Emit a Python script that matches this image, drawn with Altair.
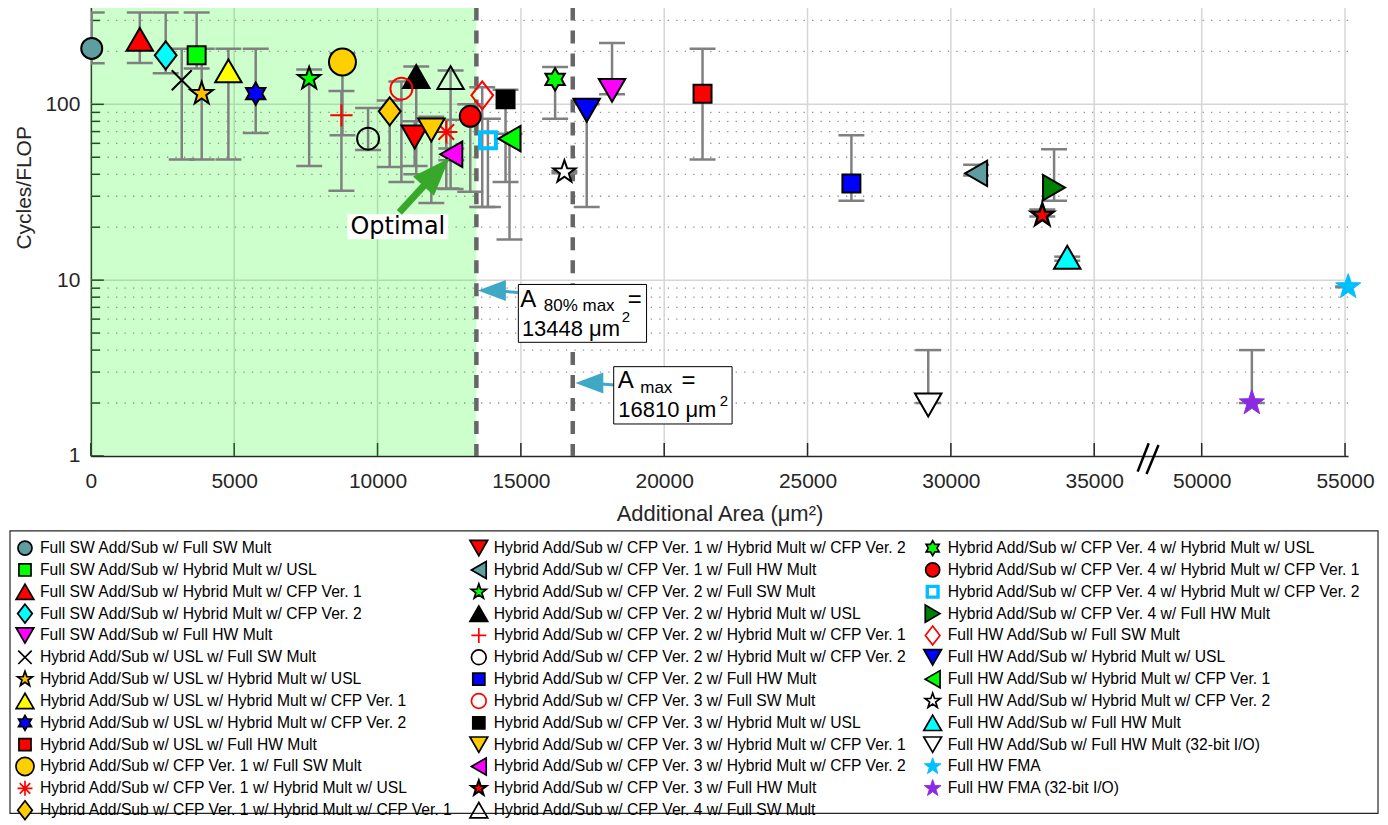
import math
import altair as alt
import pandas as pd

# ---------------- data ----------------
names = [
    "Full SW Add/Sub w/ Full SW Mult",
    "Full SW Add/Sub w/ Hybrid Mult w/ USL",
    "Full SW Add/Sub w/ Hybrid Mult w/ CFP Ver. 1",
    "Full SW Add/Sub w/ Hybrid Mult w/ CFP Ver. 2",
    "Full SW Add/Sub w/ Full HW Mult",
    "Hybrid Add/Sub w/ USL w/ Full SW Mult",
    "Hybrid Add/Sub w/ USL w/ Hybrid Mult w/ USL",
    "Hybrid Add/Sub w/ USL w/ Hybrid Mult w/ CFP Ver. 1",
    "Hybrid Add/Sub w/ USL w/ Hybrid Mult w/ CFP Ver. 2",
    "Hybrid Add/Sub w/ USL w/ Full HW Mult",
    "Hybrid Add/Sub w/ CFP Ver. 1 w/ Full SW Mult",
    "Hybrid Add/Sub w/ CFP Ver. 1 w/ Hybrid Mult w/ USL",
    "Hybrid Add/Sub w/ CFP Ver. 1 w/ Hybrid Mult w/ CFP Ver. 1",
    "Hybrid Add/Sub w/ CFP Ver. 1 w/ Hybrid Mult w/ CFP Ver. 2",
    "Hybrid Add/Sub w/ CFP Ver. 1 w/ Full HW Mult",
    "Hybrid Add/Sub w/ CFP Ver. 2 w/ Full SW Mult",
    "Hybrid Add/Sub w/ CFP Ver. 2 w/ Hybrid Mult w/ USL",
    "Hybrid Add/Sub w/ CFP Ver. 2 w/ Hybrid Mult w/ CFP Ver. 1",
    "Hybrid Add/Sub w/ CFP Ver. 2 w/ Hybrid Mult w/ CFP Ver. 2",
    "Hybrid Add/Sub w/ CFP Ver. 2 w/ Full HW Mult",
    "Hybrid Add/Sub w/ CFP Ver. 3 w/ Full SW Mult",
    "Hybrid Add/Sub w/ CFP Ver. 3 w/ Hybrid Mult w/ USL",
    "Hybrid Add/Sub w/ CFP Ver. 3 w/ Hybrid Mult w/ CFP Ver. 1",
    "Hybrid Add/Sub w/ CFP Ver. 3 w/ Hybrid Mult w/ CFP Ver. 2",
    "Hybrid Add/Sub w/ CFP Ver. 3 w/ Full HW Mult",
    "Hybrid Add/Sub w/ CFP Ver. 4 w/ Full SW Mult",
    "Hybrid Add/Sub w/ CFP Ver. 4 w/ Hybrid Mult w/ USL",
    "Hybrid Add/Sub w/ CFP Ver. 4 w/ Hybrid Mult w/ CFP Ver. 1",
    "Hybrid Add/Sub w/ CFP Ver. 4 w/ Hybrid Mult w/ CFP Ver. 2",
    "Hybrid Add/Sub w/ CFP Ver. 4 w/ Full HW Mult",
    "Full HW Add/Sub w/ Full SW Mult",
    "Full HW Add/Sub w/ Hybrid Mult w/ USL",
    "Full HW Add/Sub w/ Hybrid Mult w/ CFP Ver. 1",
    "Full HW Add/Sub w/ Hybrid Mult w/ CFP Ver. 2",
    "Full HW Add/Sub w/ Full HW Mult",
    "Full HW Add/Sub w/ Full HW Mult (32-bit I/O)",
    "Full HW FMA",
    "Full HW FMA (32-bit I/O)",
]
area = [30, 3690, 1706, 2610, 18180, 3170, 3866, 4797, 5750, 21337,
        8776, 12398, 10424, 11295, 30880, 7615, 11350, 8740, 9670, 26530,
        10832, 14465, 11876, 12572, 33190, 12548, 16194, 13234, 13850, 33600,
        13652, 17297, 14603, 16518, 34060, 29210, 55110, 51750]
cycles = [208, 190, 234, 190, 120, 137, 115, 155, 115, 115,
          174, 69.6, 91.2, 65.2, 40.5, 140, 144, 86.6, 63.8, 35.5,
          122.8, 106.7, 71.5, 52, 23.4, 141.8, 138.7, 85.5, 62.4, 33.6,
          112.5, 92.5, 63.8, 41.2, 13.5, 1.95, 9.15, 2.0]
err_lo = [171, 160, 172, 150, 114, 48.5, 48.5, 48.5, 68.7, 48.5,
          66.7, 33.2, 44, 44.6, 39.4, 44.6, 40, 32.2, 55, 28.3,
          36.2, 36.2, 27.5, 48, 23.0, 33, 82.8, 31.8, 26.1, 28.3,
          26.1, 26.1, 17.0, 40.5, 12.9, 2, 9.1, 2]
err_hi = [333, 333, 333, 333, 223, 207, 207, 207, 207, 207,
          195, 81.8, 105, 80, 45.3, 158, 164, 119, 95.3, 66.7,
          135, 121, 85, 56, 25.2, 156, 163, 100, 82.8, 55.5,
          125, 100, 68, 41.8, 13.6, 4, 9.2, 4]

A80 = 13448
AMAX = 16810

x_ticks = [0, 5000, 10000, 15000, 20000, 25000, 30000, 35000, 50000, 55000]
y_major = [10, 100]
y_minor = [2, 3, 4, 5, 6, 7, 8, 9, 20, 30, 40, 50, 60, 70, 80, 90, 200, 300]

# broken x axis: 50000 is drawn where 38750 would fall
BREAK_SHIFT = 11250


def ax(v):
    return v - BREAK_SHIFT if v >= 45000 else v


x_tick_pos = [ax(v) for v in x_ticks]

# ---------------- marker styles ----------------


def star(n, inner):
    p = []
    for k in range(2 * n):
        r = 1.0 if k % 2 == 0 else inner
        a = math.pi * k / n - math.pi / 2
        p.append(f"{r * math.cos(a):.3f},{r * math.sin(a):.3f}")
    return "M" + "L".join(p) + "Z"


PENT = star(5, 0.40)
HEX = star(6, 0.58)
DIAM = "M0,-1L0.78,0L0,1L-0.78,0Z"
XM = "M-1,-1L1,1M-1,1L1,-1"
PLUS = "M-1,0L1,0M0,-1L0,1"
AST = "M-1,0L1,0M0,-1L0,1M-0.7,-0.7L0.7,0.7M-0.7,0.7L0.7,-0.7"
HEAD = "M1,0L-1,-0.75L-1,0.75Z"
TU, TD, TL, TR = "triangle-up", "triangle-down", "triangle-left", "triangle-right"
C, S = "circle", "square"
K = "#000000"
N = "transparent"
W_ = "#ffffff"

style = [  # shape, fill, stroke, size, strokeWidth
    (C, "#5f9ea0", K, 441, 2), (S, "#00ff00", K, 324, 2), (TU, "#ff0000", K, 700, 2),
    (DIAM, "#00ffff", K, 784, 2), (TD, "#ff00ff", K, 700, 2), (XM, N, K, 400, 2),
    (PENT, "#ffc000", K, 560, 2), (TU, "#ffff00", K, 700, 2), (HEX, "#0000ff", K, 500, 2),
    (S, "#ff0000", K, 324, 2), (C, "#ffd000", K, 729, 2), (AST, N, "#ff0000", 500, 2),
    (DIAM, "#ffcc00", K, 784, 2), (TD, "#ff0000", K, 700, 2), (TL, "#5f9ea0", K, 650, 2),
    (PENT, "#00ff00", K, 560, 2), (TU, "#000000", K, 700, 2), (PLUS, N, "#ff0000", 500, 2),
    (C, N, K, 484, 2), (S, "#0000ff", K, 324, 2), (C, N, "#ff0000", 484, 2),
    (S, "#000000", K, 324, 2), (TD, "#ffcc00", K, 700, 2), (TL, "#ff00ff", K, 650, 2),
    (PENT, "#ff0000", K, 560, 2.5), (TU, N, K, 700, 2), (HEX, "#00ff00", K, 500, 2),
    (C, "#ff0000", K, 441, 2), (S, N, "#00bfff", 256, 4), (TR, "#008000", K, 650, 2),
    (DIAM, N, "#ff0000", 784, 2), (TD, "#0000ff", K, 700, 2), (TL, "#00ff00", K, 650, 2),
    (PENT, W_, K, 560, 2), (TU, "#00ffff", K, 700, 2), (TD, W_, K, 700, 2),
    (PENT, "#00bfff", "#00bfff", 700, 1), (PENT, "#8a2be2", "#8a2be2", 700, 1),
]

pts = pd.DataFrame({
    "name": names,
    "x": [ax(v) for v in area],
    "y": cycles,
    "lo": err_lo,
    "hi": err_hi,
    "shape": [s[0] for s in style],
    "fill": [s[1] for s in style],
    "stroke": [s[2] for s in style],
    "size": [s[3] for s in style],
    "sw": [s[4] for s in style],
})

# ---------------- scales & axes ----------------
W, H = 1259, 449
xs = alt.Scale(domain=[0, 43855], nice=False, zero=False)
ys = alt.Scale(type="log", domain=[1, 355], nice=False)
FONT = "Liberation Sans"
INK = "#262626"

NB = "\u00a0"
x_axis = alt.Axis(
    values=x_tick_pos, grid=False, ticks=False, domainColor=INK, domainWidth=1.5,
    labelFontSize=21, labelPadding=15, labelFlush=False, labelOverlap=False,
    labelExpr=(f"datum.value > 36000 ? format(datum.value + {BREAK_SHIFT}, 'd') : "
               f"(datum.value == 0 ? '0{NB * 4}' : format(datum.value, 'd'))"),
    title="Additional Area (μm²)", titleFontSize=22, titleFontWeight="normal",
    titlePadding=12,
)
y_axis = alt.Axis(
    values=[1, 10, 100], grid=False, ticks=False, domainColor=INK, domainWidth=1.5,
    labelFontSize=21, labelPadding=11, format="d",
    title="Cycles/FLOP", titleFontSize=21, titleFontWeight="normal",
    titleAngle=270, titleAlign="center", titleBaseline="middle", titleX=-66, titleY=180,
)


def X(f):
    return alt.X(f, type="quantitative", scale=xs, axis=x_axis)


def Y(f):
    return alt.Y(f, type="quantitative", scale=ys, axis=y_axis)


base = alt.Chart(pts)

spacer = alt.Chart(pd.DataFrame({"d": [0]})).mark_rule(strokeOpacity=0).encode(
    x=alt.value(-81), x2=alt.value(-80), y=alt.value(200), y2=alt.value(201))

grid_minor = alt.Chart(pd.DataFrame({"v": y_minor})).mark_rule(
    color="#8f8f8f", strokeWidth=1.3, strokeDash=[1.3, 7.2]).encode(y=Y("v"))
grid_major = alt.Chart(pd.DataFrame({"v": y_major})).mark_rule(
    color="#d6d6d6", strokeWidth=1.5).encode(y=Y("v"))
grid_x = alt.Chart(pd.DataFrame({"v": x_tick_pos[1:]})).mark_rule(
    color="#d6d6d6", strokeWidth=1.5).encode(x=X("v"))

tick_y_major = alt.Chart(pd.DataFrame({"v": [1] + y_major})).mark_rule(
    color=INK, strokeWidth=1.5).encode(y=Y("v"), x=alt.value(0), x2=alt.value(13))
tick_y_minor = alt.Chart(pd.DataFrame({"v": y_minor})).mark_rule(
    color=INK, strokeWidth=1.5).encode(y=Y("v"), x=alt.value(0), x2=alt.value(9))
tick_x = alt.Chart(pd.DataFrame({"v": x_tick_pos})).mark_rule(
    color=INK, strokeWidth=1.5).encode(x=X("v"), y=alt.value(H), y2=alt.value(H - 13))

green = alt.Chart(pd.DataFrame({"x0": [0], "x1": [A80], "y0": [1], "y1": [355]})).mark_rect(
    color="#00ff00", opacity=0.2).encode(x=X("x0"), x2="x1", y=Y("y0"), y2="y1")

dashes = alt.Chart(pd.DataFrame({"v": [A80, AMAX]})).mark_rule(
    color="#666666", strokeWidth=4.5, strokeDash=[13, 10]).encode(x=X("v"))

# axis break marks
brk = pd.DataFrame({"x0": [36515, 36825], "x1": [36902, 37243],
                    "y0": [0.814, 0.79], "y1": [1.181, 1.155]})
breaks = alt.Chart(brk).mark_rule(color="#000000", strokeWidth=2.5).encode(
    x=X("x0"), x2="x1", y=Y("y0"), y2="y1")

GRAY = "#808080"
err_rule = base.mark_rule(color=GRAY, strokeWidth=2.5, clip=True).encode(
    x=X("x"), y=Y("lo"), y2="hi")
cap_lo = base.mark_tick(orient="horizontal", color=GRAY, thickness=2.5, size=26,
                        opacity=1, clip=True).encode(x=X("x"), y=Y("lo"))
cap_hi = base.mark_tick(orient="horizontal", color=GRAY, thickness=2.5, size=26,
                        opacity=1, clip=True).encode(x=X("x"), y=Y("hi"))

markers = base.mark_point(filled=True, opacity=1).encode(
    x=X("x"), y=Y("y"),
    shape=alt.Shape("shape:N", scale=None),
    fill=alt.Fill("fill:N", scale=None),
    stroke=alt.Stroke("stroke:N", scale=None),
    size=alt.Size("size:Q", scale=None),
    strokeWidth=alt.StrokeWidth("sw:Q", scale=None),
)

# ---------------- annotations ----------------
GREEN_A = "#37a829"
TEAL_A = "#3fa9c5"

opt_box = alt.Chart(pd.DataFrame({"x0": [8950], "x1": [12468], "y0": [17.1], "y1": [23.7]})).mark_rect(
    fill="white").encode(x=X("x0"), x2="x1", y=Y("y0"), y2="y1")
opt_txt = alt.Chart(pd.DataFrame({"x": [10709], "y": [20.1], "t": ["Optimal"]})).mark_text(
    font="DejaVu Sans", fontSize=24, color="black", align="center", baseline="middle").encode(
    x=X("x"), y=Y("y"), text="t:N")

arrow_body = pd.DataFrame({
    "x0": [10761, 14895, 18259], "y0": [24.3, 8.51, 2.532],
    "x1": [12053, 13990, 17389], "y1": [41.1, 8.74, 2.599],
    "c": [GREEN_A, TEAL_A, TEAL_A], "w": [7, 3, 3],
})
bodies = alt.Chart(arrow_body).mark_rule().encode(
    x=X("x0"), x2="x1", y=Y("y0"), y2="y1",
    color=alt.Color("c:N", scale=None), strokeWidth=alt.StrokeWidth("w:Q", scale=None))

head_green = alt.Chart(pd.DataFrame({"x": [12053], "y": [41.1]})).mark_point(
    shape=HEAD, filled=True, opacity=1, color=GREEN_A, size=1444, angle=312.8,
    strokeWidth=0).encode(x=X("x"), y=Y("y"))
head_teal = alt.Chart(pd.DataFrame({"x": [13990, 17389], "y": [8.74, 2.599]})).mark_point(
    shape=HEAD, filled=True, opacity=1, color=TEAL_A, size=784, angle=180,
    strokeWidth=0).encode(x=X("x"), y=Y("y"))

boxes = alt.Chart(pd.DataFrame({"x0": [14912, 18238], "x1": [19384, 22368],
                                "y0": [4.43, 1.52], "y1": [9.45, 3.22]})).mark_rect(
    fill="white", stroke="black", strokeWidth=1).encode(x=X("x0"), x2="x1", y=Y("y0"), y2="y1")

ann = pd.DataFrame({
    "x": [14975, 15801, 18726, 15035, 18517, 18378, 19165, 20607, 18399, 21940],
    "y": [7.03, 6.69, 7.03, 4.81, 5.77, 2.425, 2.29, 2.425, 1.672, 1.923],
    "t": ["A", "80% max", "=", "13448 μm", "2", "A", "max", "=", "16810 μm", "2"],
    "fs": [24, 17, 24, 22, 15, 24, 17, 24, 22, 15],
})
ann_txt = alt.Chart(ann).mark_text(font=FONT, color="black", align="left",
                                   baseline="alphabetic").encode(
    x=X("x"), y=Y("y"), text="t:N", size=alt.Size("fs:Q", scale=None))

plot = alt.layer(
    spacer, grid_minor, grid_major, grid_x, tick_y_major, tick_y_minor, tick_x,
    green, dashes, breaks, err_rule, cap_lo, cap_hi, markers,
    opt_box, bodies, head_green, head_teal, opt_txt, boxes, ann_txt,
).properties(width=W, height=H)

# ---------------- legend panel ----------------
ROWS = 13
LW, LH = 1289, 283
leg = pts[["name", "shape", "fill", "stroke", "size", "sw"]].copy()
leg["col"] = [i // ROWS for i in range(len(names))]
leg["row"] = [i % ROWS for i in range(len(names))]
leg["lsize"] = leg["size"] * 0.45
leg["lsw"] = leg["sw"] * 0.85

lx = alt.Scale(domain=[0.1452, 2.9813], nice=False, zero=False)
ly = alt.Scale(domain=[-0.791, 12.149], nice=False, zero=False, reverse=True)


def LX(f):
    return alt.X(f, type="quantitative", scale=lx, axis=None)


def LY(f):
    return alt.Y(f, type="quantitative", scale=ly, axis=None)


frame = alt.Chart(pd.DataFrame({"x0": [-0.033], "x1": [2.9813],
                                "y0": [-0.791], "y1": [12.149]})).mark_rect(
    fill="white", stroke=INK, strokeWidth=1.2).encode(
    x=LX("x0"), x2="x1", y=LY("y0"), y2="y1")
lbase = alt.Chart(leg)
lsym = lbase.mark_point(filled=True, opacity=1).encode(
    x=LX("col"), y=LY("row"),
    shape=alt.Shape("shape:N", scale=None), fill=alt.Fill("fill:N", scale=None),
    stroke=alt.Stroke("stroke:N", scale=None), size=alt.Size("lsize:Q", scale=None),
    strokeWidth=alt.StrokeWidth("lsw:Q", scale=None))
ltxt = lbase.mark_text(align="left", baseline="middle", dx=15, fontSize=15.7,
                       font=FONT, color="black").encode(
    x=LX("col"), y=LY("row"), text="name:N")
legend = alt.layer(frame, lsym, ltxt).properties(width=LW, height=LH)

chart = alt.vconcat(plot, legend, spacing=3).properties(
    padding={"left": 0, "top": -4, "right": 0, "bottom": 0}).configure_view(
    stroke="transparent").configure_axis(
    labelFont=FONT, titleFont=FONT, labelColor=INK, titleColor=INK)

chart.save("out.html", embed_options={"renderer": "svg", "actions": False})
